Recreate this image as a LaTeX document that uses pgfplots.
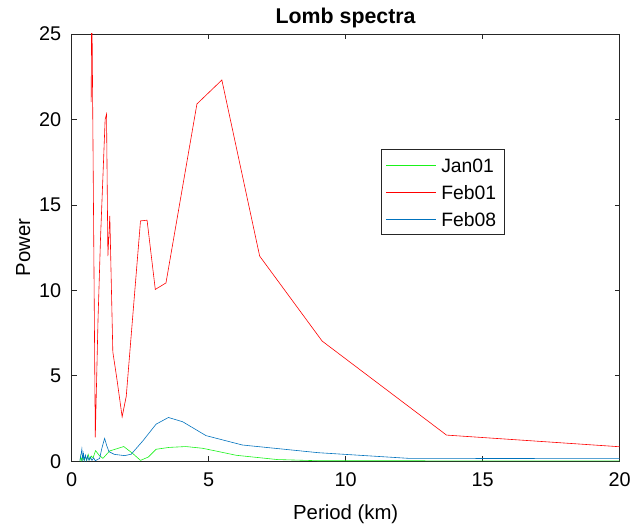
\documentclass[border=0pt]{standalone}
\usepackage{fontspec}
\setmainfont{Liberation Sans}
\usepackage{pgfplots}
\pgfplotsset{compat=1.18}
\definecolor{mgreen}{rgb}{0.1,0.95,0.1}
\definecolor{mblue}{rgb}{0,0.447,0.741}
\definecolor{axgray}{rgb}{0.15,0.15,0.15}
\begin{document}
\begin{tikzpicture}
\begin{axis}[
  scale only axis,
  width=550bp, height=429bp,
  xmin=0, xmax=20, ymin=0, ymax=25,
  xtick={0,5,10,15,20}, ytick={0,5,10,15,20,25},
  tick align=inside,
  major tick length=5bp,
  axis line style={axgray, line width=0.6pt},
  every tick/.style={axgray, line width=0.6pt},
  ticklabel style={font=\fontsize{20}{24}\selectfont},
  xticklabel style={yshift=-8bp},
  yticklabel style={xshift=-7bp},
  /pgf/number format/assume math mode=true,
  xlabel={Period (km)}, ylabel={Power},
  label style={font=\fontsize{20.5}{24}\selectfont},
  xlabel style={yshift=-11bp},
  ylabel style={yshift=2bp},
  title={\textbf{Lomb spectra}},
  title style={font=\fontsize{21.5}{25}\selectfont, yshift=-4bp},
]
\addplot[color=mgreen, line width=0.6pt] coordinates {
(0.3,0.0) (0.33,0.3) (0.36,0.05) (0.4,0.25) (0.45,0.05) (0.5,0.3) (0.55,0.05)
(0.6,0.4) (0.66,0.1) (0.72,0.3) (0.78,0.2) (0.87,0.62) (1.0,0.35) (1.14,0.17)
(1.38,0.6) (1.62,0.72) (1.9,0.86) (2.23,0.45) (2.51,0.05) (2.8,0.25) (3.08,0.70)
(3.56,0.81) (4.17,0.86) (4.77,0.76) (5.26,0.6) (6.0,0.35) (7.5,0.1) (9,0.03) (20,0.02)};
\addplot[color=red, line width=0.6pt] coordinates {
(0.71,21.0) (0.73,28) (0.86,1.4) (0.96,8.3) (1.05,13.0) (1.22,20.0) (1.27,20.3)
(1.32,12.0) (1.39,14.35) (1.50,6.4) (1.65,4.8) (1.84,2.6) (1.99,3.8) (2.51,14.06)
(2.75,14.1) (3.05,10.05) (3.44,10.43) (4.57,20.9) (5.48,22.3) (6.86,12.0)
(9.14,7.03) (13.68,1.53) (27.4,0.05)};
\addplot[color=mblue, line width=0.6pt] coordinates {
(0.3,0.05) (0.35,0.5) (0.37,0.72) (0.40,0.1) (0.43,0.45) (0.46,0.05) (0.5,0.35)
(0.54,0.05) (0.58,0.3) (0.63,0.05) (0.68,0.25) (0.74,0.05) (0.8,0.2) (0.86,0.03)
(0.94,0.1) (1.02,0.17) (1.1,0.76) (1.2,1.34) (1.28,0.9) (1.36,0.56) (1.56,0.4)
(1.93,0.33) (2.17,0.41) (2.6,1.2) (3.08,2.17) (3.53,2.56) (4.05,2.31) (4.9,1.5)
(6.23,0.95) (9.0,0.5) (10.0,0.4) (12.3,0.17) (20,0.15)};
% legend box (the matrix legend loses its colours under xdvipdfmx)
\node[draw=axgray, line width=0.6pt, fill=white, anchor=north west, inner sep=0pt,
  minimum width=123bp, minimum height=85bp] at (rel axis cs:0.565,0.7296) {};
\draw[mgreen, line width=0.6pt] ([xshift=5bp,yshift=-16bp]rel axis cs:0.565,0.7296) -- ++(50bp,0);
\draw[red, line width=0.6pt] ([xshift=5bp,yshift=-43bp]rel axis cs:0.565,0.7296) -- ++(50bp,0);
\draw[mblue, line width=0.6pt] ([xshift=5bp,yshift=-70bp]rel axis cs:0.565,0.7296) -- ++(50bp,0);
\node[anchor=west, inner sep=0pt, font=\fontsize{19.5}{23}\selectfont]
  at ([xshift=60bp,yshift=-16bp]rel axis cs:0.565,0.7296) {Jan01};
\node[anchor=west, inner sep=0pt, font=\fontsize{19.5}{23}\selectfont]
  at ([xshift=60bp,yshift=-43bp]rel axis cs:0.565,0.7296) {Feb01};
\node[anchor=west, inner sep=0pt, font=\fontsize{19.5}{23}\selectfont]
  at ([xshift=60bp,yshift=-70bp]rel axis cs:0.565,0.7296) {Feb08};
\end{axis}
% page margins as in the reference
\path (current axis.south west) ++(-72bp,-64bp);
\path (current axis.north east) ++(12bp,34bp);
\end{tikzpicture}
\end{document}
